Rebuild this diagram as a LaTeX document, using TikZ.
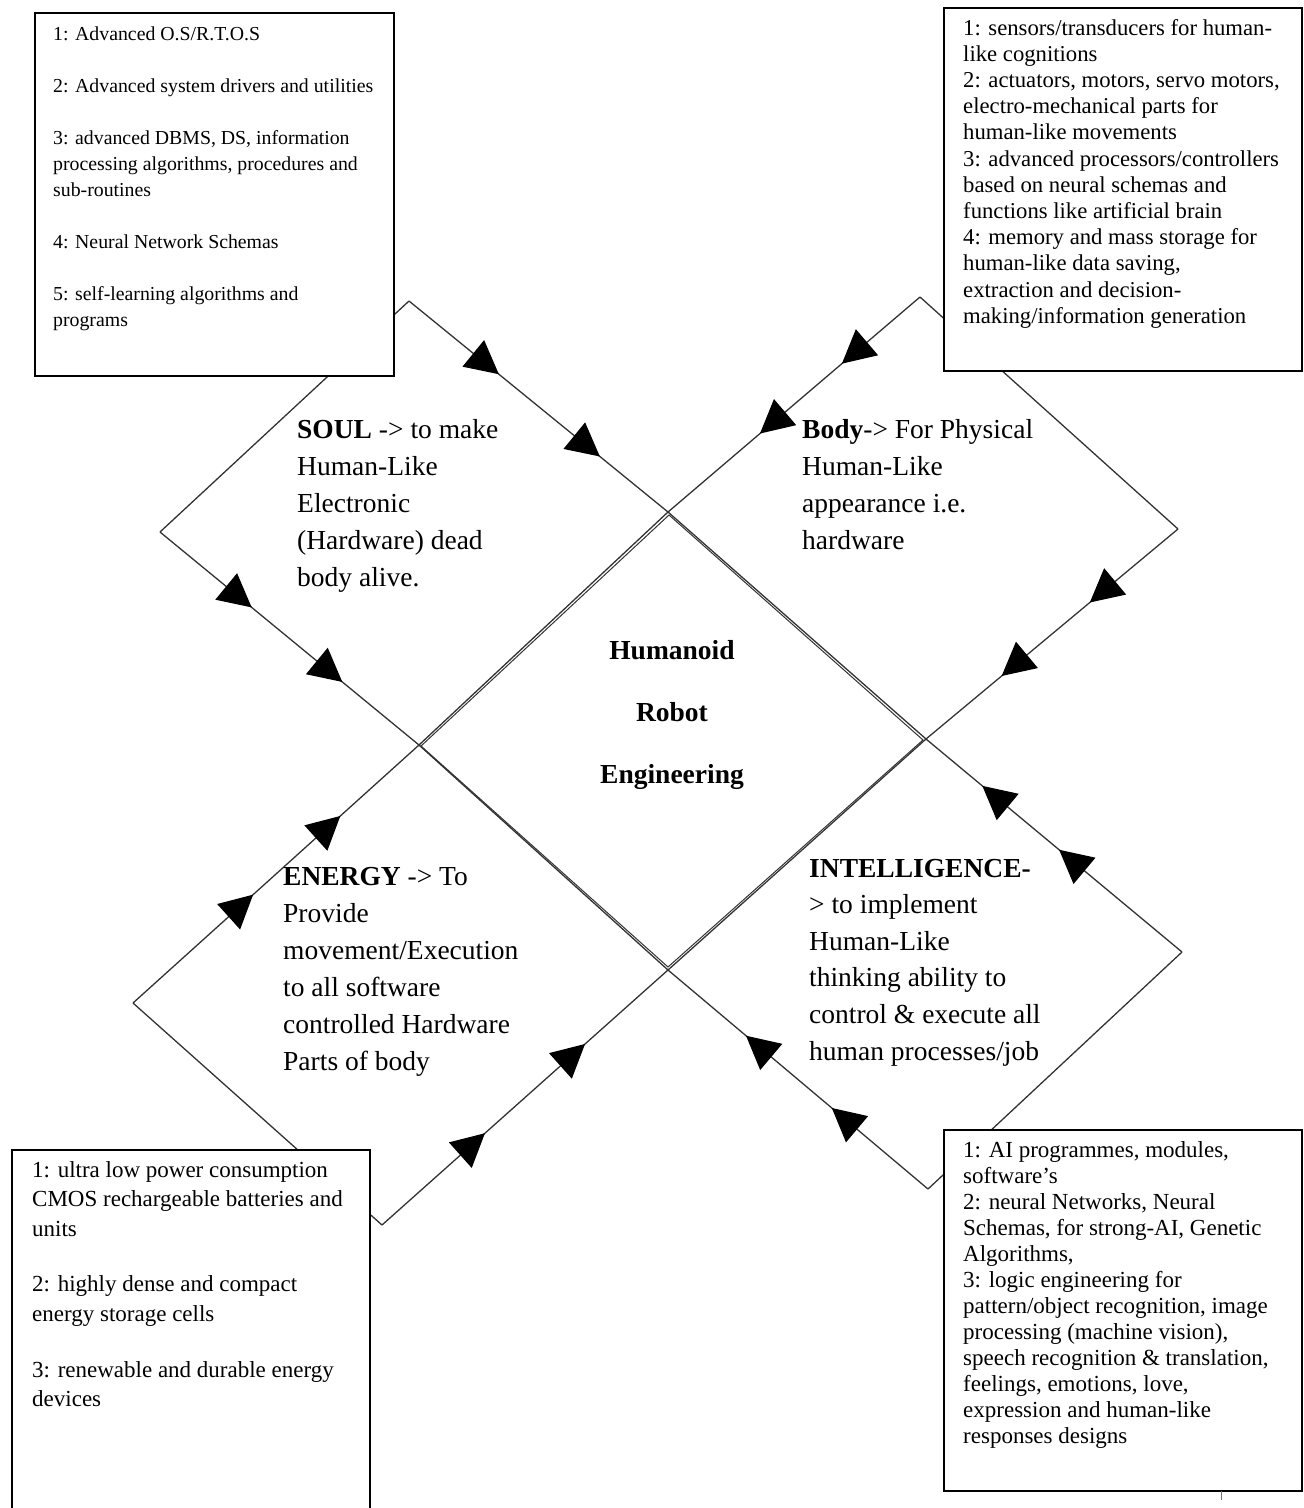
\documentclass[tikz,border=0pt]{standalone}
\usepackage{fontspec}
\setmainfont{Liberation Serif}
\usetikzlibrary{arrows.meta,decorations.markings}

\tikzset{
  edge/.style={draw=black!80, line width=1.3pt},
  twoheads/.style 2 args={postaction={decorate}, decoration={markings,
      mark=at position #1 with {\arrow{Triangle[length=33pt,width=34pt,color=black]}},
      mark=at position #2 with {\arrow{Triangle[length=33pt,width=34pt,color=black]}}}},
  infobox/.style={draw=black, line width=1.8pt, fill=white, rectangle, anchor=north west, inner sep=0pt},
  bigtext/.style={anchor=base west, inner sep=0pt, font=\fontsize{27.5}{37}\selectfont},
  smalltext/.style={anchor=base west, inner sep=0pt, font=\fontsize{23}{26}\selectfont},
}

\begin{document}
\begin{tikzpicture}[x=1pt,y=-1pt]
\useasboundingbox (0,0) rectangle (1304,1508);

% shared corners of the central diamond
\coordinate (ct) at (668,512);
\coordinate (cr) at (926,739);
\coordinate (cb) at (668,970);
\coordinate (cl) at (419,745);
% outer corners of the four wings
\coordinate (soulT) at (409,301);
\coordinate (soulL) at (160,532);
\coordinate (bodyT) at (920,297);
\coordinate (bodyR) at (1178,529);
\coordinate (enL) at (133,1003);
\coordinate (enB) at (382,1225);
\coordinate (inR) at (1182,952);
\coordinate (inB) at (928,1189);

% SOUL wing
\draw[edge, twoheads={0.347}{0.737}] (soulT) -- (ct);
\draw[edge, twoheads={0.354}{0.704}] (soulL) -- (cl);
\draw[edge] (soulT) -- (soulL);
\draw[edge] (ct) -- (cl);
% BODY wing
\draw[edge, twoheads={0.31}{0.635}] (bodyT) -- (ct);
\draw[edge, twoheads={0.35}{0.70}] (bodyR) -- (cr);
\draw[edge] (bodyT) -- (bodyR);
\draw[edge] (ct) -- (cr);
% ENERGY wing
\draw[edge, twoheads={0.42}{0.725}] (enL) -- (cl);
\draw[edge, twoheads={0.36}{0.71}] (enB) -- (cb);
\draw[edge] (enL) -- (enB);
\draw[edge] (cl) -- (cb);
% INTELLIGENCE wing
\draw[edge, twoheads={0.37}{0.70}] (inB) -- (cb);
\draw[edge, twoheads={0.48}{0.78}] (inR) -- (cr);
\draw[edge] (inR) -- (inB);
\draw[edge] (cb) -- (cr);

% central diamond, traced a second time just inside the shared edges
\coordinate (ct2) at (669,515);
\coordinate (cr2) at (923,740);
\coordinate (cb2) at (668,967);
\coordinate (cl2) at (421,746);
\draw[edge, line width=1pt] (ct2) -- (cr2) -- (cb2) -- (cl2) -- cycle;

% information boxes
\node[infobox, minimum width=359pt, minimum height=363pt] (soulBox) at (34,12) {};
\node[infobox, minimum width=358pt, minimum height=363pt] (bodyBox) at (943,7) {};
\node[infobox, minimum width=358pt, minimum height=420pt] (energyBox) at (11,1149) {};
\node[infobox, minimum width=358pt, minimum height=361pt] (intelBox) at (943,1129) {};
\coordinate (tickTop) at (1221,1491);
\coordinate (tickEnd) at (1221,1500);
\draw[black!55, line width=0.8pt] (tickTop) -- (tickEnd);

% box contents
\node[smalltext, font=\fontsize{19.8}{26}\selectfont] (soulList) at (53,40) {\begin{tabular}[t]{@{}l@{}}
1: Advanced O.S/R.T.O.S\\[26pt]
2: Advanced system drivers and utilities\\[26pt]
3: advanced DBMS, DS, information\\
processing algorithms, procedures and\\
sub-routines\\[26pt]
4: Neural Network Schemas\\[26pt]
5: self-learning algorithms and\\
programs
\end{tabular}};

\node[smalltext, font=\fontsize{22.7}{26.2}\selectfont] (bodyList) at (963,35) {\begin{tabular}[t]{@{}l@{}}
1: sensors/transducers for human-\\
like cognitions\\
2: actuators, motors, servo motors,\\
electro-mechanical parts for\\
human-like movements\\
3: advanced processors/controllers\\
based on neural schemas and\\
functions like artificial brain\\
4: memory and mass storage for\\
human-like data saving,\\
extraction and decision-\\
making/information generation
\end{tabular}};

\node[smalltext, font=\fontsize{23}{29.8}\selectfont] (energyList) at (32,1177) {\begin{tabular}[t]{@{}l@{}}
1: ultra low power consumption\\
CMOS rechargeable batteries and\\
units\\[25.5pt]
2: highly dense and compact\\
energy storage cells\\[25.5pt]
3: renewable and durable energy\\
devices
\end{tabular}};

\node[smalltext, font=\fontsize{23}{26}\selectfont] (intelList) at (963,1157) {\begin{tabular}[t]{@{}l@{}}
1: AI programmes, modules,\\
software’s\\
2: neural Networks, Neural\\
Schemas, for strong-AI, Genetic\\
Algorithms,\\
3: logic engineering for\\
pattern/object recognition, image\\
processing (machine vision),\\
speech recognition \& translation,\\
feelings, emotions, love,\\
expression and human-like\\
responses designs
\end{tabular}};

% wing captions
\node[bigtext] (soulText) at (297,438) {\begin{tabular}[t]{@{}l@{}}
\textbf{SOUL} -> to make\\
Human-Like\\
Electronic\\
(Hardware) dead\\
body alive.
\end{tabular}};

\node[bigtext] (bodyText) at (802,438) {\begin{tabular}[t]{@{}l@{}}
\textbf{Body}-> For Physical\\
Human-Like\\
appearance i.e.\\
hardware
\end{tabular}};

\node[bigtext] (energyText) at (283,885) {\begin{tabular}[t]{@{}l@{}}
\textbf{ENERGY} -> To\\
Provide\\
movement/Execution\\
to all software\\
controlled Hardware\\
Parts of body
\end{tabular}};

\node[bigtext, font=\fontsize{27.5}{36.6}\selectfont] (intelText) at (809,877) {\begin{tabular}[t]{@{}l@{}}
\textbf{INTELLIGENCE-}\\
> to implement\\
Human-Like\\
thinking ability to\\
control \& execute all\\
human processes/job
\end{tabular}};

% hub
\node[anchor=base, inner sep=0pt, font=\bfseries\fontsize{27.5}{62}\selectfont] (hub) at (672,659) {\begin{tabular}[t]{@{}c@{}}
Humanoid\\
Robot\\
Engineering
\end{tabular}};
\end{tikzpicture}
\end{document}
